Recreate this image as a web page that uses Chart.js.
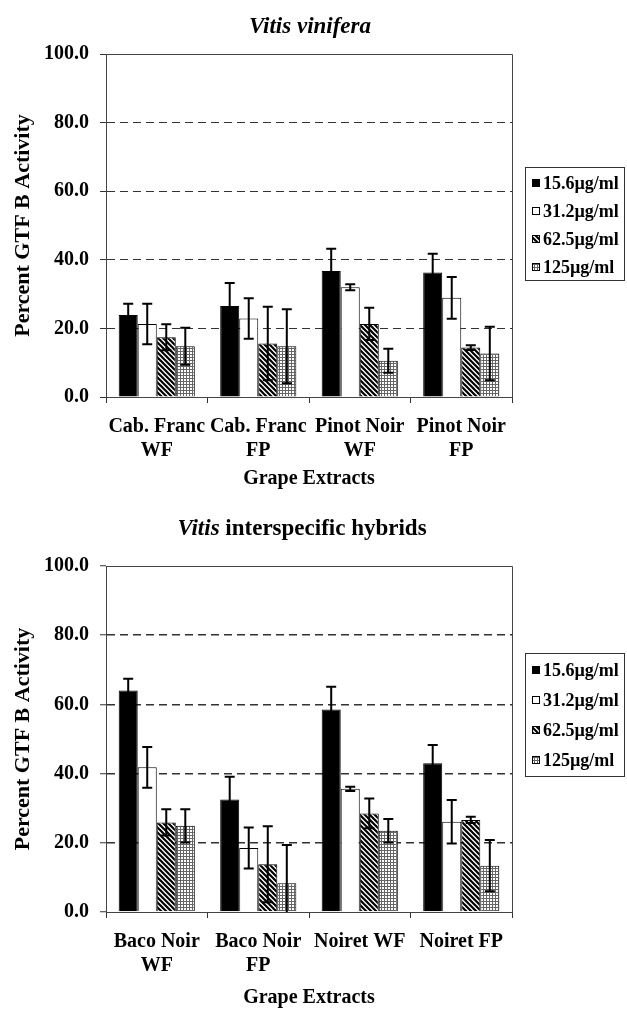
<!DOCTYPE html>
<html>
<head>
<meta charset="utf-8">
<script src="https://cdn.jsdelivr.net/npm/chart.js@4.4.1/dist/chart.umd.min.js"></script>
<style>
    body { margin: 0; background: #fff; }
    .box { position: absolute; left: 0; width: 627px; }
</style>
</head>
<body>
<div class="box" style="top:0px;height:505px"><canvas id="vinifera" width="627" height="505"></canvas></div>
<div class="box" style="top:505px;height:509px"><canvas id="hybrids" width="627" height="509"></canvas></div>
<script>
/* Dane do wykresow */
var concLabels = ['15.6µg/ml', '31.2µg/ml', '62.5µg/ml', '125µg/ml'];
var yTickValues = [0, 20, 40, 60, 80, 100];
var xTitle = 'Grape Extracts';
var yTitle = 'Percent GTF B Activity';

var viniferaTitle = [{ text: 'Vitis vinifera', italic: true }];
var viniferaLabels = [['Cab. Franc', 'WF'], ['Cab. Franc', 'FP'], ['Pinot Noir', 'WF'], ['Pinot Noir', 'FP']];
var vin156 = [23.9, 26.5, 36.7, 36.3];
var vin156Err = [3.3, 6.7, 6.5, 5.5];
var vin312 = [21.3, 22.9, 32.0, 28.9];
var vin312Err = [5.9, 5.9, 0.9, 6.1];
var vin625 = [17.4, 15.6, 21.3, 14.4];
var vin625Err = [3.8, 10.7, 4.7, 0.7];
var vin125 = [14.8, 14.8, 10.6, 12.7];
var vin125Err = [5.4, 10.8, 3.5, 7.8];

var hybridTitle = [{ text: 'Vitis', italic: true }, { text: ' interspecific hybrids', italic: false }];
var hybridLabels = [['Baco Noir', 'WF'], ['Baco Noir', 'FP'], 'Noiret WF', 'Noiret FP'];
var hyb156 = [64.0, 32.5, 58.5, 43.0];
var hyb156Err = [3.4, 6.6, 6.6, 5.3];
var hyb312 = [41.8, 18.5, 35.6, 26.1];
var hyb312Err = [5.9, 5.9, 0.6, 6.3];
var hyb625 = [25.9, 13.8, 28.5, 26.6];
var hyb625Err = [3.8, 11.0, 4.3, 0.9];
var hyb125 = [24.9, 8.3, 23.5, 13.4];
var hyb125Err = [4.8, 11.1, 3.4, 7.4];

var FONT = '"Liberation Serif", "Times New Roman", serif';
Chart.defaults.font.family = FONT;
Chart.defaults.font.weight = 'bold';
Chart.defaults.color = '#000';

/* Wzory wypelnien */
var makeHatch = function () {
    var s = 5;
    var c = document.createElement('canvas');
    c.width = s; c.height = s;
    var g = c.getContext('2d');
    g.fillStyle = '#fff';
    g.fillRect(0, 0, s, s);
    g.strokeStyle = '#000';
    g.lineWidth = 2.2;
    g.beginPath();
    g.moveTo(-1, -1); g.lineTo(s + 1, s + 1);
    g.moveTo(-2, s - 2); g.lineTo(2, s + 2);
    g.moveTo(s - 2, -2); g.lineTo(s + 2, 2);
    g.stroke();
    return g.createPattern(c, 'repeat');
};

var makeDots = function () {
    var c = document.createElement('canvas');
    c.width = 3; c.height = 3;
    var g = c.getContext('2d');
    g.fillStyle = '#fff';
    g.fillRect(0, 0, 3, 3);
    g.fillStyle = '#666';
    g.fillRect(0, 0, 3, 1);
    g.fillRect(0, 0, 1, 3);
    return g.createPattern(c, 'repeat');
};

var fills = ['#000', '#fff', makeHatch(), makeDots()];

/* Slupki bledu (przyciete do obszaru wykresu) */
var errorBarPlugin = {
    id: 'errorBars',
    afterDatasetsDraw: function (chart) {
        var ctx = chart.ctx;
        var a = chart.chartArea;
        var yScale = chart.scales.y;
        ctx.save();
        ctx.beginPath();
        ctx.rect(a.left, a.top, a.right - a.left, a.bottom - a.top);
        ctx.clip();
        ctx.strokeStyle = '#000';
        ctx.lineWidth = 2;
        chart.data.datasets.forEach(function (ds, i) {
            var meta = chart.getDatasetMeta(i);
            meta.data.forEach(function (bar, j) {
                var top = yScale.getPixelForValue(ds.data[j] + ds.errors[j]);
                var bot = yScale.getPixelForValue(ds.data[j] - ds.errors[j]);
                ctx.beginPath();
                ctx.moveTo(bar.x, top); ctx.lineTo(bar.x, bot);
                ctx.moveTo(bar.x - 5, top); ctx.lineTo(bar.x + 5, top);
                ctx.moveTo(bar.x - 5, bot); ctx.lineTo(bar.x + 5, bot);
                ctx.stroke();
            });
        });
        ctx.restore();
    }
};

/* Ramka wykresu (gora i prawa strona) */
var framePlugin = {
    id: 'frame',
    afterDraw: function (chart) {
        var a = chart.chartArea;
        var ctx = chart.ctx;
        ctx.save();
        ctx.strokeStyle = '#444';
        ctx.lineWidth = 1;
        ctx.beginPath();
        ctx.moveTo(a.left, a.top + 0.5);
        ctx.lineTo(a.right + 0.5, a.top + 0.5);
        ctx.lineTo(a.right + 0.5, a.bottom);
        ctx.stroke();
        ctx.restore();
    }
};

/* Legenda w ramce */
var legendBoxPlugin = {
    id: 'legendBox',
    afterDraw: function (chart, args, opts) {
        var ctx = chart.ctx;
        var x = chart.chartArea.right + 13;
        ctx.save();
        ctx.strokeStyle = '#333';
        ctx.lineWidth = 1;
        ctx.strokeRect(x + 0.5, opts.top + 0.5, 99, opts.height);
        ctx.font = 'bold 18px ' + FONT;
        ctx.textBaseline = 'middle';
        chart.data.datasets.forEach(function (ds, i) {
            var y = Math.round(opts.top + opts.first + i * opts.step);
            ctx.fillStyle = ds.backgroundColor;
            ctx.fillRect(x + 7, y - 4, 8, 8);
            ctx.strokeStyle = '#000';
            ctx.strokeRect(x + 7.5, y - 3.5, 7, 7);
            ctx.fillStyle = '#000';
            ctx.fillText(ds.label, x + 18, y + 1);
        });
        ctx.restore();
    }
};

/* Tytul z kursywa */
var titlePlugin = {
    id: 'chartTitle',
    afterDraw: function (chart, args, opts) {
        var ctx = chart.ctx;
        ctx.save();
        ctx.fillStyle = '#000';
        ctx.textBaseline = 'middle';
        var fontOf = function (p) { return (p.italic ? 'italic ' : '') + 'bold 23px ' + FONT; };
        var total = 0;
        opts.parts.forEach(function (p) {
            ctx.font = fontOf(p);
            total += ctx.measureText(p.text).width;
        });
        var x = opts.x - total / 2;
        opts.parts.forEach(function (p) {
            ctx.font = fontOf(p);
            ctx.fillText(p.text, x, opts.y);
            x += ctx.measureText(p.text).width;
        });
        ctx.restore();
    }
};

var makeChart = function (id, labels, series, errs, cfg) {
    return new Chart(document.getElementById(id), {
        type: 'bar',
        data: {
            labels: labels,
            datasets: series.map(function (vals, i) {
                return {
                    label: concLabels[i],
                    data: vals,
                    errors: errs[i],
                    backgroundColor: fills[i],
                    borderColor: '#000',
                    borderWidth: 1,
                    categoryPercentage: 0.75,
                    barPercentage: 1.0
                };
            })
        },
        options: {
            responsive: false,
            maintainAspectRatio: false,
            animation: false,
            layout: { padding: { top: cfg.padTop, right: 115, bottom: 0, left: 0 } },
            plugins: {
                legend: { display: false },
                tooltip: { enabled: false },
                chartTitle: { parts: cfg.title, x: cfg.titleX, y: cfg.titleY },
                legendBox: { top: cfg.legendTop, height: cfg.legendHeight, first: cfg.legendFirst, step: cfg.legendStep }
            },
            scales: {
                x: {
                    afterFit: function (scale) { scale.height = cfg.xHeight; },
                    grid: { offset: true, drawOnChartArea: false, color: '#333', tickLength: 6 },
                    border: { color: '#444' },
                    ticks: { font: { size: 20, lineHeight: 1.2 }, padding: 12, maxRotation: 0, autoSkip: false },
                    title: { display: true, text: xTitle, font: { size: 20, lineHeight: 1.2 }, padding: { top: 0, bottom: cfg.xTitlePad } }
                },
                y: {
                    min: 0,
                    max: 100,
                    afterFit: function (scale) { scale.width = 106; },
                    afterBuildTicks: function (scale) {
                        scale.ticks = yTickValues.map(function (v) { return { value: v }; });
                    },
                    grid: {
                        color: function (c) {
                            if (c.tick && (c.tick.value === 0 || c.tick.value === 100)) return 'rgba(0,0,0,0)';
                            return '#333';
                        },
                        lineWidth: cfg.gridWidth,
                        tickColor: '#333',
                        tickWidth: 1,
                        tickLength: 6,
                        tickBorderDash: []
                    },
                    border: { color: '#444', dash: [8, 5] },
                    ticks: {
                        font: { size: 20 },
                        padding: 11,
                        callback: function (v) { return Number(v).toFixed(1); }
                    },
                    title: { display: true, text: yTitle, font: { size: 22, lineHeight: 1.2 }, padding: { top: 10, bottom: 0 } }
                }
            }
        },
        plugins: [errorBarPlugin, framePlugin, legendBoxPlugin, titlePlugin]
    });
};

var chartVinifera = makeChart('vinifera', viniferaLabels,
    [vin156, vin312, vin625, vin125],
    [vin156Err, vin312Err, vin625Err, vin125Err],
    {
        padTop: 54, xHeight: 108, xTitlePad: 14, gridWidth: 1,
        title: viniferaTitle, titleX: 310, titleY: 27,
        legendTop: 167, legendHeight: 113, legendFirst: 16, legendStep: 28
    });

var chartHybrids = makeChart('hybrids', hybridLabels,
    [hyb156, hyb312, hyb625, hyb125],
    [hyb156Err, hyb312Err, hyb625Err, hyb125Err],
    {
        padTop: 61, xHeight: 102, xTitlePad: 4, gridWidth: 1.5,
        title: hybridTitle, titleX: 302, titleY: 24,
        legendTop: 148, legendHeight: 123, legendFirst: 17, legendStep: 30
    });
</script>
</body>
</html>
